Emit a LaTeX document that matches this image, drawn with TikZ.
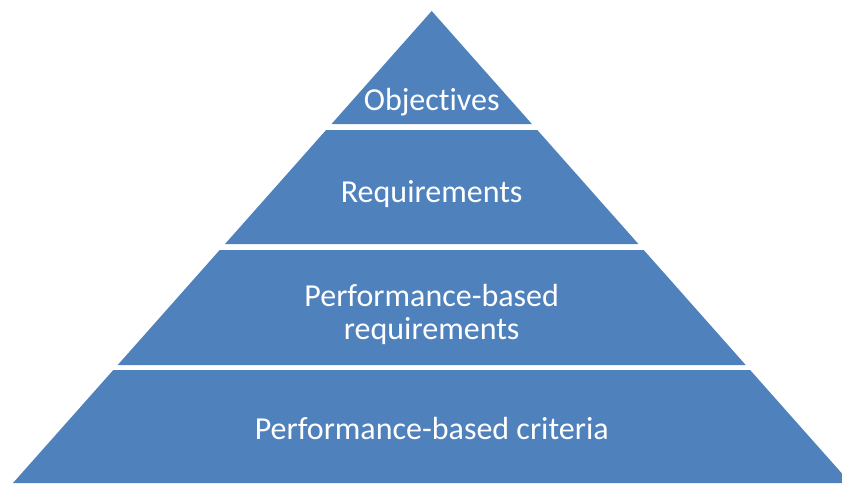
\documentclass[tikz,border=0pt]{standalone}
\usepackage{fontspec}
\setmainfont{Carlito}[Ligatures=NoCommon]
\definecolor{pyrblue}{HTML}{4F81BD}
\begin{document}
\begin{tikzpicture}[x=1pt,y=-1pt,
  layer/.style={fill=pyrblue,draw=none},
  lbl/.style={text=white,font=\fontsize{32}{33.5}\selectfont,align=center,inner sep=0pt,anchor=base}]
\useasboundingbox (0,0) rectangle (842,483);
\clip (0,0) rectangle (842,483);
\fill[layer] (431.7,11) -- (531.9,124) -- (331.5,124) -- cycle;
\fill[layer] (326.1,130) -- (537.3,130) -- (638.4,244) -- (225,244) -- cycle;
\fill[layer] (219.7,250) -- (643.7,250) -- (745.7,365) -- (117.7,365) -- cycle;
\fill[layer] (113.3,370) -- (750.1,370) -- (850.4,483) -- (13,483) -- cycle;
\node[lbl] (obj) at (431.7,110) {Objectives};
\node[lbl] (req) at (431.7,202) {Requirements};
\node[lbl] (pbr) at (431.7,339.5) {Performance-based\\requirements};
\node[lbl] (pbc) at (431.7,439) {Performance-based criteria};
\end{tikzpicture}
\end{document}
